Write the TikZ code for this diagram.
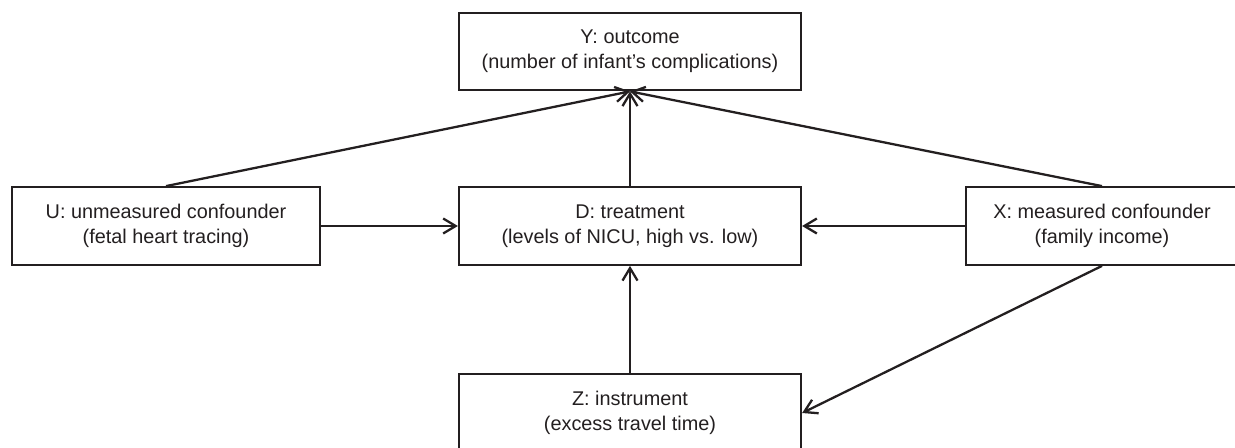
\documentclass[tikz,border=0pt]{standalone}
\usepackage{fontspec}
\setmainfont{Liberation Sans}
\usepackage{tikz}
\usetikzlibrary{arrows.meta}
\usetikzlibrary{positioning}
\definecolor{ink}{HTML}{231F20}

\begin{document}
\begin{tikzpicture}[color=ink,
	box/.style={draw,line width=1.3pt,align=center,inner sep=0pt,minimum height=1.55cm,font=\fontsize{11.3}{14.2}\selectfont},
	arr/.style={line width=1.3pt,-{Straight Barb[length=2.5mm,width=3mm]}}]
		\useasboundingbox (0,0) rectangle (24.7,8.94);
		\clip (0,0) rectangle (24.7,8.94);
		\node[box,minimum width=6.84cm] (Y) at (12.6,7.91) {Y: outcome\\(number of infant's complications)};
		\node[box,minimum width=6.84cm] (D) at (12.6,4.42) {D: treatment\\(levels of NICU, high vs. low)};
		\node[box,minimum width=6.16cm] (U) at (3.32,4.42) {U: unmeasured confounder\\(fetal heart tracing)};
		\node[box,minimum width=5.44cm] (X) at (22.04,4.42) {X: measured confounder\\(family income)};
		\node[box,minimum width=6.84cm] (Z) at (12.6,0.68) {Z: instrument\\(excess travel time)};
		\draw[arr] (U.north) -- (Y.south);
		\draw[arr] (D.north) -- (Y.south);
		\draw[arr] (X.north) -- (Y.south);
		\draw[arr] (U.east) -- (D.west);
		\draw[arr] (X.west) -- (D.east);
		\draw[arr] (Z.north) -- (D.south);
		\draw[arr] (X.south) -- (Z.east);
	\end{tikzpicture}
\end{document}
